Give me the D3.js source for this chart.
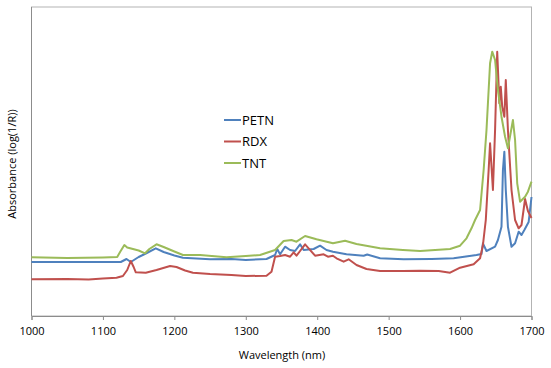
<!DOCTYPE html>
<html>
<head>
<meta charset="utf-8">
<script src="https://cdn.jsdelivr.net/npm/d3@7"></script>
<style>
  body { margin: 0; background: #fff; }
  svg { display: block; font-family: "Open Sans", "Liberation Sans", sans-serif; }
</style>
</head>
<body>
<div id="chart"></div>
<script>
// spectra (wavelength in nm, absorbance in arbitrary units)
const seriesNames = ["PETN", "RDX", "TNT"];
const xTicks = [1000, 1100, 1200, 1300, 1400, 1500, 1600, 1700];

const petnNm = [1000, 1050, 1100, 1125, 1133, 1139, 1150, 1160, 1174, 1185, 1200, 1212, 1250, 1280, 1300,
  1329, 1341, 1344, 1348, 1355, 1362, 1369, 1376, 1381, 1395, 1404, 1413, 1422, 1441, 1465, 1470, 1488,
  1521, 1560, 1591, 1623, 1630, 1632, 1637, 1649, 1653, 1658, 1660, 1662, 1664, 1667, 1672, 1677, 1682,
  1686, 1690, 1696, 1700];
const petnAbs = [0.54, 0.54, 0.54, 0.54, 0.57, 0.54, 0.59, 0.625, 0.677, 0.64, 0.605, 0.583, 0.567, 0.57, 0.56,
  0.57, 0.61, 0.67, 0.617, 0.693, 0.66, 0.65, 0.717, 0.66, 0.67, 0.703, 0.66, 0.643, 0.617, 0.603, 0.615, 0.577,
  0.567, 0.57, 0.577, 0.61, 0.62, 0.727, 0.65, 0.693, 0.76, 0.893, 1.46, 1.643, 1.26, 0.893, 0.693, 0.727, 0.843,
  0.81, 0.86, 0.94, 1.19];

const rdxNm = [1000, 1050, 1080, 1100, 1119, 1128, 1134, 1139, 1143, 1146, 1160, 1175, 1194, 1203, 1215, 1226,
  1250, 1280, 1300, 1329, 1336, 1341, 1348, 1355, 1362, 1367, 1371, 1376, 1383, 1388, 1397, 1409, 1415, 1422,
  1427, 1437, 1444, 1455, 1469, 1488, 1520, 1544, 1570, 1586, 1600, 1619, 1628, 1632, 1636, 1640, 1642, 1646,
  1649, 1652, 1655, 1657, 1659, 1662, 1664, 1667, 1672, 1677, 1682, 1686, 1691, 1695, 1700];
const rdxAbs = [0.367, 0.37, 0.365, 0.375, 0.383, 0.40, 0.46, 0.55, 0.49, 0.437, 0.433, 0.46, 0.50, 0.49, 0.455, 0.433,
  0.42, 0.41, 0.40, 0.403, 0.443, 0.593, 0.60, 0.61, 0.593, 0.637, 0.603, 0.65, 0.717, 0.677, 0.603, 0.617, 0.593, 0.603,
  0.577, 0.543, 0.567, 0.51, 0.47, 0.45, 0.45, 0.453, 0.45, 0.433, 0.483, 0.517, 0.577, 0.71, 0.96, 1.46, 1.727, 1.26,
  1.86, 2.643, 2.127, 2.293, 2.093, 1.993, 2.36, 1.86, 1.26, 0.96, 0.877, 0.91, 1.17, 1.05, 0.98];

const tntNm = [1000, 1050, 1100, 1120, 1124, 1130, 1134, 1138, 1150, 1159, 1165, 1175, 1185, 1200, 1212, 1236,
  1273, 1300, 1320, 1341, 1353, 1364, 1371, 1383, 1399, 1422, 1439, 1455, 1488, 1520, 1544, 1586, 1600, 1609,
  1616, 1621, 1628, 1633, 1637, 1642, 1645, 1649, 1653, 1658, 1663, 1667, 1674, 1677, 1680, 1684, 1691, 1695, 1700];
const tntAbs = [0.587, 0.58, 0.585, 0.59, 0.64, 0.71, 0.685, 0.677, 0.655, 0.627, 0.67, 0.717, 0.69, 0.645, 0.61, 0.61,
  0.587, 0.60, 0.61, 0.66, 0.75, 0.76, 0.743, 0.80, 0.767, 0.727, 0.753, 0.72, 0.677, 0.66, 0.65, 0.67, 0.703, 0.777,
  0.877, 0.96, 1.06, 1.46, 1.86, 2.527, 2.643, 2.56, 2.26, 1.993, 1.793, 1.677, 1.96, 1.76, 1.327, 1.143, 1.193, 1.243, 1.343];

const colors = ["#4f81bd", "#c0504d", "#9bbb59"];

const spectra = [
  {name: seriesNames[0], nm: petnNm, abs: petnAbs, color: colors[0]},
  {name: seriesNames[1], nm: rdxNm, abs: rdxAbs, color: colors[1]},
  {name: seriesNames[2], nm: tntNm, abs: tntAbs, color: colors[2]}
];

var width = 551, height = 368;
var margin = {top: 7, right: 19.5, bottom: 52, left: 31.5};
var plotW = width - margin.left - margin.right,
    plotH = height - margin.top - margin.bottom;

var svg = d3.select("#chart")
    .append("svg")
    .attr("width", width)
    .attr("height", height);

svg.append("rect")
    .attr("width", width)
    .attr("height", height)
    .attr("fill", "#fff");

const chart = svg.append("g")
    .attr("transform", `translate(${margin.left}, ${margin.top})`);

const xScale = d3.scaleLinear()
    .domain([1000, 1700])
    .range([0, plotW]);

const yScale = d3.scaleLinear()
    .domain([0, 3.09])
    .range([plotH, 0]);

// plot area frame (top / right)
chart.append("rect")
    .attr("x", 0)
    .attr("y", 0)
    .attr("width", plotW)
    .attr("height", plotH)
    .attr("fill", "none")
    .attr("stroke", "#b3b3b3")
    .attr("stroke-width", 1);

// x axis
const xAxis = chart.append("g")
    .attr("transform", `translate(0, ${plotH})`)
    .call(d3.axisBottom(xScale).tickValues(xTicks).tickSize(4).tickPadding(7).tickFormat(d3.format("d")));
xAxis.select(".domain").attr("stroke", "#8c8c8c");
xAxis.selectAll(".tick line").attr("stroke", "#8c8c8c");
xAxis.selectAll("text")
    .attr("fill", "#000")
    .style("font-size", "11px")
    .style("font-family", "\"Open Sans\", sans-serif");

// y axis (no ticks)
chart.append("line")
    .attr("x1", 0).attr("x2", 0)
    .attr("y1", 0).attr("y2", plotH)
    .attr("stroke", "#8c8c8c");

const line = d3.line()
    .x((d) => xScale(d[0]))
    .y((d) => yScale(d[1]));

chart.selectAll(".spectrum")
    .data(spectra)
    .enter()
    .append("path")
    .attr("class", "spectrum")
    .attr("fill", "none")
    .attr("stroke", (s) => s.color)
    .attr("stroke-width", 2)
    .attr("stroke-linejoin", "round")
    .attr("d", (s) => line(s.nm.map((n, i) => [n, s.abs[i]])));

// axis titles
svg.append("text")
    .attr("x", 282)
    .attr("y", 359)
    .attr("text-anchor", "middle")
    .style("font-size", "11px")
    .text("Wavelength (nm)");

svg.append("text")
    .attr("transform", "translate(16, 164) rotate(-90)")
    .attr("text-anchor", "middle")
    .style("font-size", "11px")
    .text("Absorbance (log(1/R))");

// legend
const legend = svg.append("g")
    .attr("transform", "translate(224, 120)");

const items = legend.selectAll("g")
    .data(spectra)
    .enter()
    .append("g")
    .attr("transform", (s, i) => `translate(0, ${i * 21.5})`);

items.append("line")
    .attr("x1", 0).attr("x2", 17)
    .attr("y1", 0).attr("y2", 0)
    .attr("stroke", (s) => s.color)
    .attr("stroke-width", 2);

items.append("text")
    .attr("x", 18)
    .attr("y", 0)
    .attr("dy", "0.35em")
    .style("font-size", "13px")
    .text((s) => s.name);
</script>
</body>
</html>
